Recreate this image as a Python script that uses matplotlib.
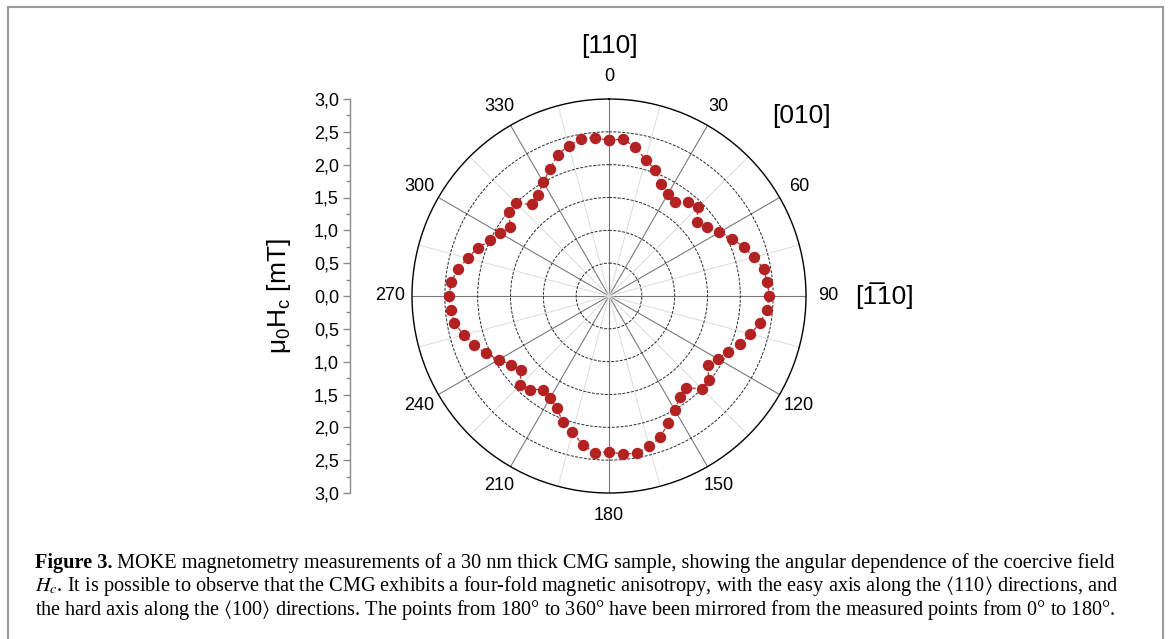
import numpy as np
import matplotlib
matplotlib.use('Agg')
import matplotlib.pyplot as plt
from matplotlib.patches import Rectangle

plt.rcParams['font.family'] = ['Liberation Sans', 'DejaVu Sans']
plt.rcParams['mathtext.fontset'] = 'custom'
plt.rcParams['mathtext.rm'] = 'Liberation Sans'
plt.rcParams['mathtext.it'] = 'Liberation Sans:italic'

# measured angles (deg) and coercive field mu0*Hc (mT), 0..180 deg
ANGLE_MEAS = [0, 5, 10, 15, 20, 25, 30, 35, 40, 45, 50, 55, 60, 65, 70, 75, 80, 85, 90,
              95, 100, 105, 110, 115, 120, 125, 130, 135, 140, 145, 150, 155, 160, 165,
              170, 175, 180]
HC_MEAS = [2.37, 2.40, 2.30, 2.15, 2.05, 1.88, 1.80, 1.74, 1.86, 1.91, 1.75, 1.82, 1.94,
           2.07, 2.18, 2.29, 2.39, 2.42, 2.44, 2.41, 2.34, 2.23, 2.13, 2.00, 1.91, 1.84,
           1.98, 2.00, 1.82, 1.88, 2.00, 2.13, 2.29, 2.37, 2.43, 2.42, 2.37]

THETA_TICKS = [0, 30, 60, 90, 120, 150, 180, 210, 240, 270, 300, 330]
THETA_MINOR = [15, 45, 75, 105, 135, 165, 195, 225, 255, 285, 315, 345]
R_RINGS = [0.5, 1.0, 1.5, 2.0, 2.5]
LEFT_TICKS = [-3.0, -2.5, -2.0, -1.5, -1.0, -0.5, 0.0, 0.5, 1.0, 1.5, 2.0, 2.5, 3.0]
LEFT_LABELS = ['3,0', '2,5', '2,0', '1,5', '1,0', '0,5', '0,0',
               '0,5', '1,0', '1,5', '2,0', '2,5', '3,0']

CAPTION_1 = (" MOKE magnetometry measurements of a 30 nm thick CMG sample, "
             "showing the angular dependence of the coercive field")
CAPTION_2 = (r"$H_c$. It is possible to observe that the CMG exhibits a four-fold magnetic "
             r"anisotropy, with the easy axis along the $\langle$110$\rangle$ directions, and")
CAPTION_3 = (r"the hard axis along the $\langle$100$\rangle$ directions. The points from 180° "
             r"to 360° have been mirrored from the measured points from 0° to 180°.")

# points 180..360 mirrored from 0..180
angles = ANGLE_MEAS + [a + 180 for a in ANGLE_MEAS[1:-1]]
hc = HC_MEAS + HC_MEAS[1:-1]
theta = np.deg2rad(angles + [angles[0]])
rad = np.array(hc + [hc[0]])

W, H = 1170, 639
fig = plt.figure(figsize=(W / 100, H / 100), dpi=100)

cx, cy, R = 609, 296, 197
ax = fig.add_axes([(cx - R) / W, (H - cy - R) / H, 2 * R / W, 2 * R / H], projection='polar')
ax.set_theta_zero_location('N')
ax.set_theta_direction(-1)
ax.set_ylim(0, 3)

ax.set_xticks(np.deg2rad(THETA_TICKS))
ax.set_xticklabels([str(t) for t in THETA_TICKS], fontsize=13)
ax.set_xticks(np.deg2rad(THETA_MINOR), minor=True)
ax.set_yticks(R_RINGS)
ax.set_yticklabels([])
ax.tick_params(axis='x', which='major', pad=9, direction='in', length=6, width=0.8, color='k')
ax.tick_params(axis='x', which='minor', direction='in', length=5, width=0.8, color='k')
ax.grid(False)
ax.xaxis.grid(True, which='major', color='#7a7a7a', lw=0.8, ls='-')
ax.xaxis.grid(True, which='minor', color='#dcdcdc', lw=0.7, ls='-')
ax.yaxis.grid(True, color='#2a2a2a', lw=0.7, ls=(0, (3, 1.5)))
ax.spines['polar'].set_color('k')
ax.spines['polar'].set_linewidth(1.0)

ax.plot(theta, rad, color='#c0282a', lw=0.9, ls=(0, (3, 2)), zorder=3, clip_on=False)
ax.plot(theta, rad, ls='none', marker='o', ms=7.2, color='#b22222', mec='#b22222', zorder=4,
        clip_on=False)

# crystal directions
fig.text(cx / W, 1 - 46 / H, '[110]', fontsize=19, ha='center', va='center')
fig.text(801 / W, 1 - 116 / H, '[010]', fontsize=19, ha='center', va='center')
fig.text(884 / W, 1 - 296 / H, '[1\u030510]', fontsize=19, ha='center', va='center')

# linear scale axis on the left
lax = fig.add_axes([350 / W, (H - 493) / H, 0.001, 2 * R / H])
lax.set_ylim(-3, 3)
lax.set_yticks(LEFT_TICKS)
lax.set_yticklabels(LEFT_LABELS, fontsize=13)
lax.set_yticks(np.arange(-2.75, 3, 0.5), minor=True)
lax.set_xticks([])
for s in ['top', 'right', 'bottom']:
    lax.spines[s].set_visible(False)
lax.spines['left'].set_color('#8a8a8a')
lax.spines['left'].set_linewidth(1.0)
lax.tick_params(axis='y', which='major', length=5, width=1.0, color='#8a8a8a', pad=3)
lax.tick_params(axis='y', which='minor', length=3, width=1.0, color='#8a8a8a')
lax.patch.set_visible(False)
fig.text(279 / W, 1 - 296 / H, r'$\mathregular{\mu_0H_c}$ [mT]', fontsize=19,
         rotation=90, ha='center', va='center')

# caption
cap_font = dict(family=['Liberation Serif', 'DejaVu Serif', 'DejaVu Sans'], fontsize=14.6,
                math_fontfamily='stix')
t1 = fig.text(35 / W, 1 - 568 / H, 'Figure 3.', weight='bold', va='baseline', **cap_font)
ax.annotate(CAPTION_1, xy=(1, 0), xycoords=t1, va='bottom', ha='left', **cap_font)
fig.text(35 / W, 1 - 591.5 / H, CAPTION_2, va='baseline', **cap_font)
fig.text(35 / W, 1 - 615 / H, CAPTION_3, va='baseline', **cap_font)

fig.add_artist(Rectangle((8 / W, -0.05), (1163 - 8) / W, 1 - 7 / H + 0.05,
                         transform=fig.transFigure, fill=False, edgecolor='#9a9a9a', lw=1.5))

fig.savefig('out.png', dpi=100)
